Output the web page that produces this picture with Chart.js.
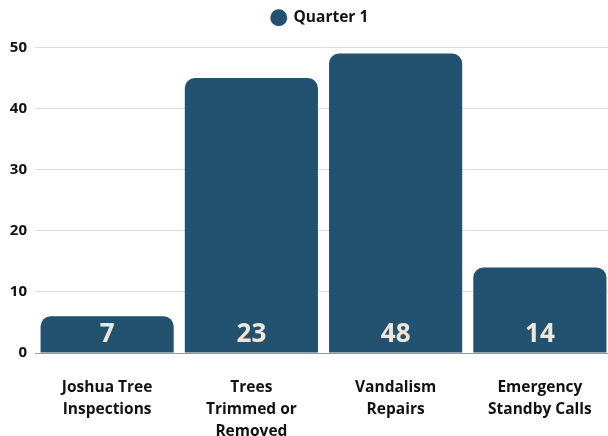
<!DOCTYPE html>
<html>
<head>
<meta charset="utf-8">
<script src="https://cdn.jsdelivr.net/npm/chart.js@4"></script>
<style>
  html, body { margin: 0; padding: 0; background: #fff; overflow: hidden; }
  #wrap { width: 640px; height: 436px; }
</style>
</head>
<body>
<div id="wrap"><canvas id="chart"></canvas></div>
<script>
// Dados do gráfico
const categories = [
    ['Joshua Tree', 'Inspections'],
    ['Trees', 'Trimmed or', 'Removed'],
    ['Vandalism', 'Repairs'],
    ['Emergency', 'Standby Calls']
];
const quarter1 = [6, 45, 49, 14];
const barLabels = ['7', '23', '48', '14'];
const yTicks = [0, 10, 20, 30, 40, 50];

const barColor = '#235270';

/**
 * Escreve os rótulos na base de cada barra
 */
const baseLabels = {
    id: 'baseLabels',
    afterDatasetsDraw(chart) {
        const ctx = chart.ctx;
        const meta = chart.getDatasetMeta(0);
        const yScale = chart.scales.y;
        ctx.save();
        ctx.fillStyle = '#f1e7d8';
        ctx.font = 'bold 26px "Open Sans"';
        ctx.textAlign = 'center';
        ctx.textBaseline = 'middle';
        meta.data.forEach((bar, i) => {
            ctx.fillText(barLabels[i], bar.x, yScale.getPixelForValue(0) - 18);
        });
        ctx.restore();
    }
};

// Espaço extra abaixo da legenda e legenda centrada no canvas inteiro
const legendGap = {
    id: 'legendGap',
    beforeInit(chart) {
        const fit = chart.legend.fit;
        chart.legend.fit = function () {
            fit.call(this);
            this.height += 12;
        };
    },
    afterLayout(chart) {
        chart.legend.left += 14;
        chart.legend.right += 14;
    }
};

new Chart(document.getElementById('chart'), {
    type: 'bar',
    data: {
        labels: categories,
        datasets: [{
            label: 'Quarter 1',
            data: quarter1,
            backgroundColor: barColor,
            borderRadius: { topLeft: 10, topRight: 10 },
            borderSkipped: 'bottom',
            barPercentage: 0.923,
            categoryPercentage: 1
        }]
    },
    options: {
        responsive: true,
        maintainAspectRatio: false,
        animation: false,
        layout: { padding: { left: 0, right: 28, top: 0, bottom: 0 } },
        plugins: {
            legend: {
                position: 'top',
                labels: {
                    usePointStyle: true,
                    pointStyle: 'circle',
                    boxWidth: 14,
                    boxHeight: 12,
                    color: '#111',
                    font: { family: 'Open Sans', size: 15.5, weight: 'bold' },
                    padding: 10
                }
            },
            tooltip: { enabled: false }
        },
        scales: {
            y: {
                min: 0,
                max: 50,
                afterBuildTicks: axis => { axis.ticks = yTicks.map(v => ({ value: v })); },
                afterFit: axis => { axis.width = 35; },
                ticks: {
                    color: '#111',
                    font: { family: 'Open Sans', size: 15, weight: 'bold' },
                    padding: 8
                },
                grid: { color: '#dcdcdc', drawTicks: false },
                border: { display: false }
            },
            x: {
                afterFit: axis => { axis.height = 83; },
                ticks: {
                    color: '#111',
                    font: { family: 'Open Sans', size: 15.5, weight: 'bold', lineHeight: 1.42 },
                    padding: 16,
                    maxRotation: 0
                },
                grid: { display: false },
                border: { color: '#999' }
            }
        }
    },
    plugins: [baseLabels, legendGap]
});
</script>
</body>
</html>
